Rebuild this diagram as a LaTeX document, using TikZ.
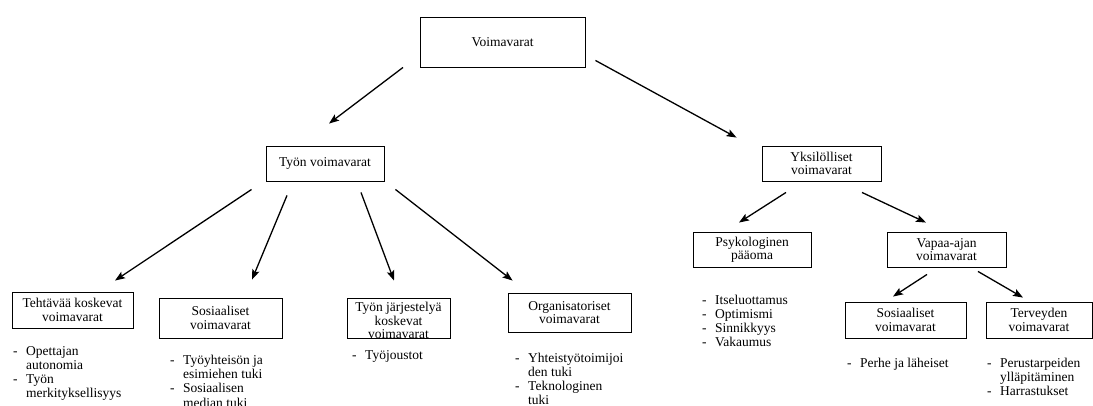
\documentclass[tikz,border=0pt]{standalone}
\usepackage{fontspec}
\setmainfont{Liberation Serif}
\usetikzlibrary{arrows.meta,calc}
\newcommand{\boxfont}{\fontsize{13.5pt}{13.5pt}\selectfont}
\newcommand{\listfont}{\fontsize{13.5pt}{14.2pt}\selectfont}
\newcommand{\dashlist}[1]{\begin{tabular}[t]{@{}l@{\hspace{8.5pt}}l@{}}#1\end{tabular}}
\tikzset{
    vbox/.style={draw, line width=0.9pt, inner sep=0pt,
                 align=center, font=\boxfont},
    items/.style={anchor=base west, inner sep=0pt, font=\listfont},
}

\begin{document}
\begin{tikzpicture}[
    x=1pt, y=-1pt,
    arr/.style={-{Stealth[length=10pt,width=7.5pt,inset=2pt]}, line width=1.3pt},
]
    \useasboundingbox (0,0) rectangle (1093,405);

    % boxes
    \node[vbox, minimum width=165, minimum height=50] (top) at (502.5,42) {Voimavarat};
    \node[vbox, minimum width=118, minimum height=35] (tyon) at (325,163.5) {Työn voimavarat};
    \node[vbox, minimum width=119, minimum height=35] (yks) at (821.5,163.5) {Yksilölliset\\voimavarat};

    \node[vbox, minimum width=121, minimum height=36] (tehtava) at (72.5,310) {Tehtävää koskevat\\voimavarat};
    \node[vbox, minimum width=123, minimum height=40] (sos1) at (220.5,318) {Sosiaaliset\\voimavarat};
    \node[vbox, minimum width=103, minimum height=40] (jarj) at (398.5,318) {};
    \node[font=\boxfont, align=center, inner sep=0pt] (jarjtxt) at (398.5,320.5) {Työn järjestelyä\\koskevat\\voimavarat};
    \node[vbox, minimum width=123, minimum height=39] (org) at (569.5,312.5) {Organisatoriset\\voimavarat};

    \node[vbox, minimum width=118, minimum height=35] (psy) at (752,249.5) {Psykologinen\\pääoma};
    \node[vbox, minimum width=119, minimum height=35] (vapaa) at (946.5,249.5) {Vapaa-ajan\\voimavarat};
    \node[vbox, minimum width=121, minimum height=36] (sos2) at (905.5,320) {Sosiaaliset\\voimavarat};
    \node[vbox, minimum width=106, minimum height=36] (terv) at (1039,320) {Terveyden\\voimavarat};

    % lists
    \node[items] (tehtava-list) at (13,355) {\dashlist{- & Opettajan\\ & autonomia\\ - & Työn\\ & merkityksellisyys}};
    \node[items] (sos1-list) at (170,364.5) {\dashlist{- & Työyhteisön ja\\ & esimiehen tuki\\ - & Sosiaalisen\\ & median tuki}};
    \node[items] (jarj-list) at (352,359) {\dashlist{- & Työjoustot}};
    \node[items] (org-list) at (515,362) {\dashlist{- & Yhteistyötoimijoi\\ & den tuki\\ - & Teknologinen\\ & tuki}};
    \node[items] (psy-list) at (702,304) {\dashlist{- & Itseluottamus\\ - & Optimismi\\ - & Sinnikkyys\\ - & Vakaumus}};
    \node[items] (sos2-list) at (847,367) {\dashlist{- & Perhe ja läheiset}};
    \node[items] (terv-list) at (987,367.5) {\dashlist{- & Perustarpeiden\\ & ylläpitäminen\\ - & Harrastukset}};

    % arrows
    \draw[arr] ($(top.south)+(-99.5,0)$) -- ($(tyon.north)+(4,-22)$);
    \draw[arr] ($(top.south east)+(10,-7)$) -- ($(yks.north west)+(-25,-8)$);
    \draw[arr] ($(tyon.south west)+(-14,8)$) -- ($(tehtava.north)+(42.5,-11)$);
    \draw[arr] ($(tyon.south)+(-38,14)$) -- ($(sos1.north)+(31.5,-18)$);
    \draw[arr] ($(tyon.south)+(36,11)$) -- ($(jarj.north)+(-4.5,-17)$);
    \draw[arr] ($(tyon.south east)+(11,8)$) -- ($(org.north west)+(5,-12)$);
    \draw[arr] ($(yks.south)+(-35.5,11)$) -- ($(psy.north)+(-13,-9)$);
    \draw[arr] ($(yks.south)+(40.5,11)$) -- ($(vapaa.north)+(-20.5,-9)$);
    \draw[arr] ($(vapaa.south)+(-19.5,7)$) -- ($(sos2.north)+(-12.5,-5)$);
    \draw[arr] ($(vapaa.south)+(31.5,4)$) -- ($(terv.north)+(-16,-4)$);
\end{tikzpicture}
\end{document}
